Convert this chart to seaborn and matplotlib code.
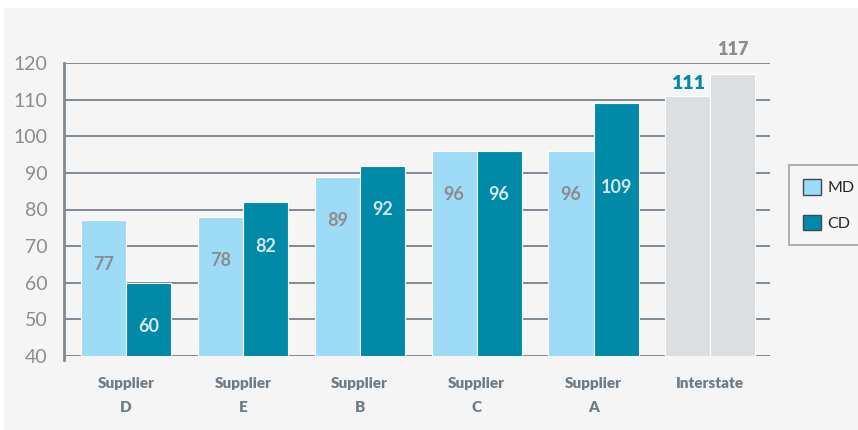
import numpy as np
import pandas as pd
import matplotlib.pyplot as plt
import matplotlib.patches as mpatches
import seaborn as sns

# data
categories = ["Supplier\nD", "Supplier\nE", "Supplier\nB", "Supplier\nC", "Supplier\nA", "Interstate"]
md_values = [77, 78, 89, 96, 96, 111]
cd_values = [60, 82, 92, 96, 109, 117]
series = ["MD", "CD"]
y_ticks = [40, 50, 60, 70, 80, 90, 100, 110, 120]

md_color = "#9edbf7"
cd_color = "#008aa8"
inter_color = "#dcdfe2"
bg = "#f5f5f5"
grid_color = "#7f8a94"
text_gray = "#8c8c8c"

df = pd.DataFrame({
    "category": categories * 2,
    "series": ["MD"] * len(categories) + ["CD"] * len(categories),
    "value": md_values + cd_values,
})

sns.set_style("white")
plt.rcParams["font.family"] = ["Lato", "DejaVu Sans"]

fig = plt.figure(figsize=(8.58, 4.30), dpi=100, facecolor="white")
fig.patches.append(mpatches.Rectangle((4 / 858, 0), 1, (430 - 8) / 430,
                                      transform=fig.transFigure, color=bg, zorder=-10))
ax = fig.add_axes([64 / 858, (430 - 356) / 430, 706 / 858, 293 / 430])
ax.set_facecolor(bg)

sns.barplot(data=df, x="category", y="value", hue="series", hue_order=series,
            palette={"MD": md_color, "CD": cd_color}, width=0.77, ax=ax, saturation=1,
            edgecolor="white", linewidth=0.8, legend=False, zorder=3)

ax.set_ylim(40, 120)
ax.set_xlim(-0.53, len(categories) - 0.49)
ax.set_yticks(y_ticks)
ax.set_yticklabels([str(t) for t in y_ticks], color=text_gray, fontsize=14)
ax.grid(axis="y", color=grid_color, linewidth=1.4, zorder=0)
ax.set_axisbelow(True)
ax.tick_params(axis="y", length=7, width=1.4, color=grid_color, pad=5)
ax.tick_params(axis="x", length=0, pad=15)
for lab in ax.get_xticklabels():
    lab.set_fontweight("heavy")
    lab.set_color("#6f7c87")
    lab.set_fontsize(11)
    lab.set_linespacing(2.05)
ax.set_xlabel("")
ax.set_ylabel("")
for s in ["top", "right", "bottom"]:
    ax.spines[s].set_visible(False)
ax.spines["left"].set_color(grid_color)
ax.spines["left"].set_linewidth(2)
ax.spines["left"].set_bounds(38.8, 120)

# bars: seaborn orders patches by hue, then category
n = len(categories)
md_bars = ax.patches[:n]
cd_bars = ax.patches[n:2 * n]
md_bars[-1].set_facecolor(inter_color)
cd_bars[-1].set_facecolor(inter_color)

for i in range(n - 1):
    for bar, val, col in [(md_bars[i], md_values[i], text_gray), (cd_bars[i], cd_values[i], "#d3e6ec")]:
        ypos = min(val - 12, 86)
        ax.text(bar.get_x() + bar.get_width() / 2, ypos, str(val), ha="center",
                va="center", color=col, fontsize=13, fontweight="bold", zorder=5)

# interstate labels above bars
ax.text(md_bars[-1].get_x() + md_bars[-1].get_width() / 2, md_values[-1] + 1, str(md_values[-1]),
        ha="center", va="bottom", color=cd_color, fontsize=14, fontweight="heavy", clip_on=False)
ax.text(cd_bars[-1].get_x() + cd_bars[-1].get_width() / 2, cd_values[-1] + 4.5, str(cd_values[-1]),
        ha="center", va="bottom", color=text_gray, fontsize=13, fontweight="heavy", clip_on=False)

handles = [mpatches.Patch(facecolor=md_color, edgecolor="#3a4a55", label="MD"),
           mpatches.Patch(facecolor=cd_color, edgecolor="#3a4a55", label="CD")]
leg = fig.legend(handles=handles, loc="upper left", bbox_to_anchor=(789 / 858, 1 - 165 / 430),
                 frameon=True, fancybox=False, edgecolor="#8c969f", facecolor=bg,
                 fontsize=11.5, handlelength=1.1, handleheight=1.1, labelspacing=1.2,
                 borderpad=0.9, handletextpad=0.4, borderaxespad=0)
leg.get_frame().set_linewidth(1.3)

fig.savefig("out.png", dpi=100, facecolor=fig.get_facecolor())
